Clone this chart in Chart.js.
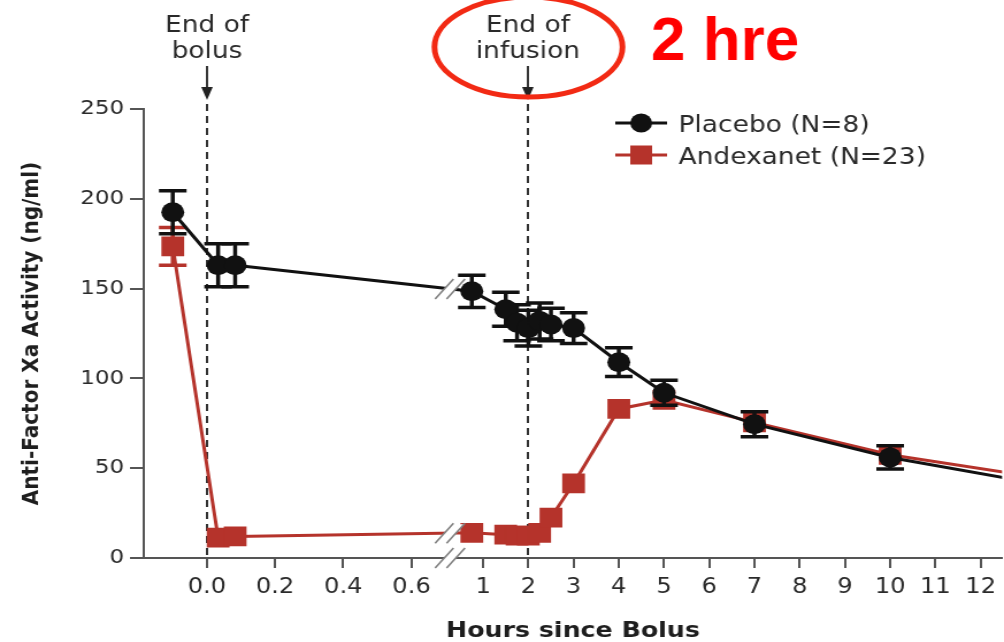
<!DOCTYPE html>
<html>
<head>
<meta charset="utf-8">
<script src="https://cdn.jsdelivr.net/npm/chart.js@4.4.1/dist/chart.umd.min.js"></script>
<style>
  html, body { margin: 0; padding: 0; background: #fff; overflow: hidden; }
  #plot { display: block; }
</style>
</head>
<body>
<canvas id="plot" width="873" height="642" style="width:1004px;height:642px"></canvas>
<script>
// Sampling times, hours since the end of the bolus
const sampleHours = [-0.1, 0.033, 0.083, 0.75, 1.5, 1.75, 2.0, 2.25, 2.5, 3, 4, 5, 7, 10, 14];

// Anti-factor Xa activity, ng/ml (mean and SEM)
const placeboMean   = [192.5, 163, 163, 148.5, 138.5, 131, 128, 132, 130, 128, 109, 92, 74.5, 56, 38];
const placeboSem    = [12, 12, 12, 9, 9.5, 10, 10, 10, 9, 8.5, 8, 7, 7, 6.5, null];
const andexanetMean = [173.5, 11.3, 12, 14, 13, 12.5, 12.5, 14, 22.5, 41.5, 83, 88, 75.5, 57.5, 42];
const andexanetSem  = [10.5, null, null, null, null, null, null, null, null, null, null, null, null, null, null];

// Axis ticks
const xTickHours  = [0, 0.2, 0.4, 0.6, 1, 2, 3, 4, 5, 6, 7, 8, 9, 10, 11, 12];
const xTickLabels = ['0.0', '0.2', '0.4', '0.6', '1', '2', '3', '4', '5', '6', '7', '8', '9', '10', '11', '12'];
const yTickStep = 50;
const yMax = 250;

// Event markers on the time axis
const eventHours  = [0, 2];
const eventLabels = [['End of', 'bolus'], ['End of', 'infusion']];

// Broken time axis: 0-0.7 h at full scale, hours after the break compressed
const EARLY_END = 0.7;
const LATE_ORIGIN = 0.810;   // axis position of hour 1
const LATE_SCALE = 0.1326;   // axis units per hour after the break
const AXIS_BREAK = 0.713;    // where the "//" marks sit
function hourToAxis(h) {
  return h <= EARLY_END ? h : LATE_ORIGIN + (h - 1) * LATE_SCALE;
}

// The figure is laid out on a narrower canvas that CSS widens to 1004 px
const STRETCH = 1004 / 873;

const FONT = 'DejaVu Sans';
const INK = '#2a2a2a';
const AXIS = '#555';
const BLACK = '#111';
const RED = '#b5332b';

Chart.defaults.font.family = FONT;

function series(values) {
  return sampleHours.map((h, i) => ({ x: hourToAxis(h), y: values[i] }));
}

// Error bars, drawn just under each dataset's own markers
const errorBars = {
  id: 'errorBars',
  beforeDatasetDraw(chart, args) {
    const ds = chart.data.datasets[args.index];
    const sem = ds.sem;
    if (!sem) return;
    const meta = args.meta;
    const y = chart.scales.y;
    const a = chart.chartArea;
    const ctx = chart.ctx;
    ctx.save();
    ctx.beginPath();
    ctx.rect(a.left, a.top - 20, a.right - a.left, a.bottom - a.top + 20);
    ctx.clip();
    ctx.strokeStyle = ds.borderColor;
    ctx.lineWidth = 3.5;
    meta.data.forEach((pt, i) => {
      const e = sem[i];
      if (e == null) return;
      const v = ds.data[i].y;
      const yt = y.getPixelForValue(v + e);
      const yb = y.getPixelForValue(v - e);
      ctx.beginPath();
      ctx.moveTo(pt.x, yt); ctx.lineTo(pt.x, yb);
      ctx.moveTo(pt.x - 12, yt); ctx.lineTo(pt.x + 12, yt);
      ctx.moveTo(pt.x - 12, yb); ctx.lineTo(pt.x + 12, yb);
      ctx.stroke();
    });
    ctx.restore();
  }
};

// Dashed event lines behind the data
const eventLines = {
  id: 'eventLines',
  beforeDatasetsDraw(chart) {
    const ctx = chart.ctx;
    const x = chart.scales.x;
    const bottom = chart.chartArea.bottom;
    ctx.save();
    ctx.strokeStyle = '#333';
    ctx.lineWidth = 2;
    ctx.setLineDash([7, 5]);
    eventHours.forEach(h => {
      const px = Math.round(x.getPixelForValue(hourToAxis(h)));
      ctx.beginPath();
      ctx.moveTo(px, 104);
      ctx.lineTo(px, bottom);
      ctx.stroke();
    });
    ctx.restore();
  }
};

function drawBreak(ctx, x, y) {
  ctx.save();
  ctx.fillStyle = '#fff';
  ctx.beginPath();
  ctx.moveTo(x - 5 - 7, y + 9);
  ctx.lineTo(x - 5 + 7, y - 9);
  ctx.lineTo(x + 5 + 7, y - 9);
  ctx.lineTo(x + 5 - 7, y + 9);
  ctx.closePath();
  ctx.fill();
  ctx.strokeStyle = '#808080';
  ctx.lineWidth = 1.6;
  [-5, 5].forEach(dx => {
    ctx.beginPath();
    ctx.moveTo(x + dx - 8, y + 10);
    ctx.lineTo(x + dx + 8, y - 10);
    ctx.stroke();
  });
  ctx.restore();
}

// Annotations, break marks and legend
const decorations = {
  id: 'decorations',
  afterDraw(chart) {
    const ctx = chart.ctx;
    const xs = chart.scales.x;
    const a = chart.chartArea;
    const bx = xs.getPixelForValue(AXIS_BREAK);

    // axis and line breaks
    drawBreak(ctx, bx, a.bottom);
    chart.data.datasets.forEach((ds, di) => {
      const meta = chart.getDatasetMeta(di);
      for (let i = 0; i < ds.data.length - 1; i++) {
        if (ds.data[i].x < AXIS_BREAK && ds.data[i + 1].x > AXIS_BREAK) {
          const p0 = meta.data[i], p1 = meta.data[i + 1];
          const t = (bx - p0.x) / (p1.x - p0.x);
          drawBreak(ctx, bx, p0.y + t * (p1.y - p0.y));
        }
      }
    });

    // event labels and arrows
    ctx.save();
    ctx.fillStyle = INK;
    ctx.strokeStyle = '#222';
    ctx.font = `23px "${FONT}"`;
    ctx.textAlign = 'center';
    ctx.textBaseline = 'alphabetic';
    eventHours.forEach((h, i) => {
      const px = Math.round(xs.getPixelForValue(hourToAxis(h)));
      ctx.fillText(eventLabels[i][0], px, 32);
      ctx.fillText(eventLabels[i][1], px, 58);
      ctx.lineWidth = 1.8;
      ctx.beginPath();
      ctx.moveTo(px, 66);
      ctx.lineTo(px, 90);
      ctx.stroke();
      ctx.fillStyle = '#222';
      ctx.beginPath();
      ctx.moveTo(px - 5, 87);
      ctx.lineTo(px + 5, 87);
      ctx.lineTo(px, 100);
      ctx.closePath();
      ctx.fill();
      ctx.fillStyle = INK;
    });
    ctx.restore();

    // legend
    ctx.save();
    const rows = [123, 155];
    const baselines = [132, 164];
    const lx0 = 535, lx1 = 580, mx = 557.5, tx = 590;
    chart.data.datasets.forEach((ds, i) => {
      const y = rows[i];
      ctx.strokeStyle = ds.borderColor;
      ctx.lineWidth = 3;
      ctx.beginPath();
      ctx.moveTo(lx0, y); ctx.lineTo(lx1, y);
      ctx.stroke();
      ctx.fillStyle = ds.backgroundColor;
      if (ds.pointStyle === 'rect') {
        ctx.fillRect(mx - 9.5, y - 9.5, 19, 19);
      } else {
        ctx.beginPath();
        ctx.arc(mx, y, 9.5, 0, Math.PI * 2);
        ctx.fill();
      }
      ctx.fillStyle = INK;
      ctx.font = `23px "${FONT}"`;
      ctx.textAlign = 'left';
      ctx.textBaseline = 'alphabetic';
      ctx.fillText(ds.label, tx, baselines[i]);
    });
    ctx.restore();

    // hand-drawn highlight: circle around the end of infusion and a note
    ctx.save();
    ctx.strokeStyle = '#f22a14';
    ctx.lineWidth = 5;
    ctx.beginPath();
    ctx.ellipse(528.5 / STRETCH, 47, 94 / STRETCH, 50, 0, 0, Math.PI * 2);
    ctx.stroke();
    ctx.translate(651 / STRETCH, 60);
    ctx.scale(1 / STRETCH, 1);
    ctx.fillStyle = '#ff0000';
    ctx.font = 'bold 62px "Liberation Sans"';
    ctx.textAlign = 'left';
    ctx.textBaseline = 'alphabetic';
    ctx.fillText('2 hre', 0, 0);
    ctx.restore();
  }
};

new Chart(document.getElementById('plot'), {
  type: 'line',
  data: {
    datasets: [
      {
        label: 'Placebo (N=8)',
        data: series(placeboMean),
        sem: placeboSem,
        borderColor: BLACK,
        backgroundColor: BLACK,
        borderWidth: 3,
        pointStyle: 'circle',
        pointRadius: 10,
        pointBorderWidth: 0,
        tension: 0
      },
      {
        label: 'Andexanet (N=23)',
        data: series(andexanetMean),
        sem: andexanetSem,
        borderColor: RED,
        backgroundColor: RED,
        borderWidth: 3,
        pointStyle: 'rect',
        pointRadius: 14,
        pointBorderWidth: 0,
        tension: 0
      }
    ]
  },
  options: {
    responsive: false,
    animation: false,
    events: [],
    devicePixelRatio: 1,
    layout: { padding: { top: 109, left: 0, right: 0, bottom: 0 }, autoPadding: false },
    scales: {
      x: {
        type: 'linear',
        min: -0.185,
        max: 2.3316,
        afterBuildTicks: s => { s.ticks = xTickHours.map(h => ({ value: hourToAxis(h) })); },
        afterFit: s => { s.height = 84; },
        ticks: {
          autoSkip: false,
          maxRotation: 0,
          padding: 7,
          color: INK,
          font: { size: 21 },
          callback: (v, i) => xTickLabels[i]
        },
        grid: { drawOnChartArea: false, tickLength: 10, color: AXIS, lineWidth: 2 },
        border: { color: AXIS, width: 2 },
        title: {
          display: true,
          text: 'Hours since Bolus',
          color: '#1e1e1e',
          font: { size: 22, weight: 'bold', lineHeight: 1 },
          padding: { top: 0, bottom: 0 }
        }
      },
      y: {
        min: 0,
        max: yMax,
        afterFit: s => { s.width = 125; },
        ticks: { stepSize: yTickStep, padding: 5, color: INK, font: { size: 20 } },
        grid: { drawOnChartArea: false, tickLength: 12, color: AXIS, lineWidth: 2 },
        border: { color: AXIS, width: 2 },
        title: {
          display: true,
          text: 'Anti-Factor Xa Activity (ng/ml)',
          color: '#1e1e1e',
          font: { size: 20, weight: 'bold', lineHeight: 1 },
          padding: { top: 18, bottom: 0 }
        }
      }
    },
    plugins: {
      legend: { display: false },
      tooltip: { enabled: false }
    }
  },
  plugins: [errorBars, eventLines, decorations]
});
</script>
</body>
</html>
